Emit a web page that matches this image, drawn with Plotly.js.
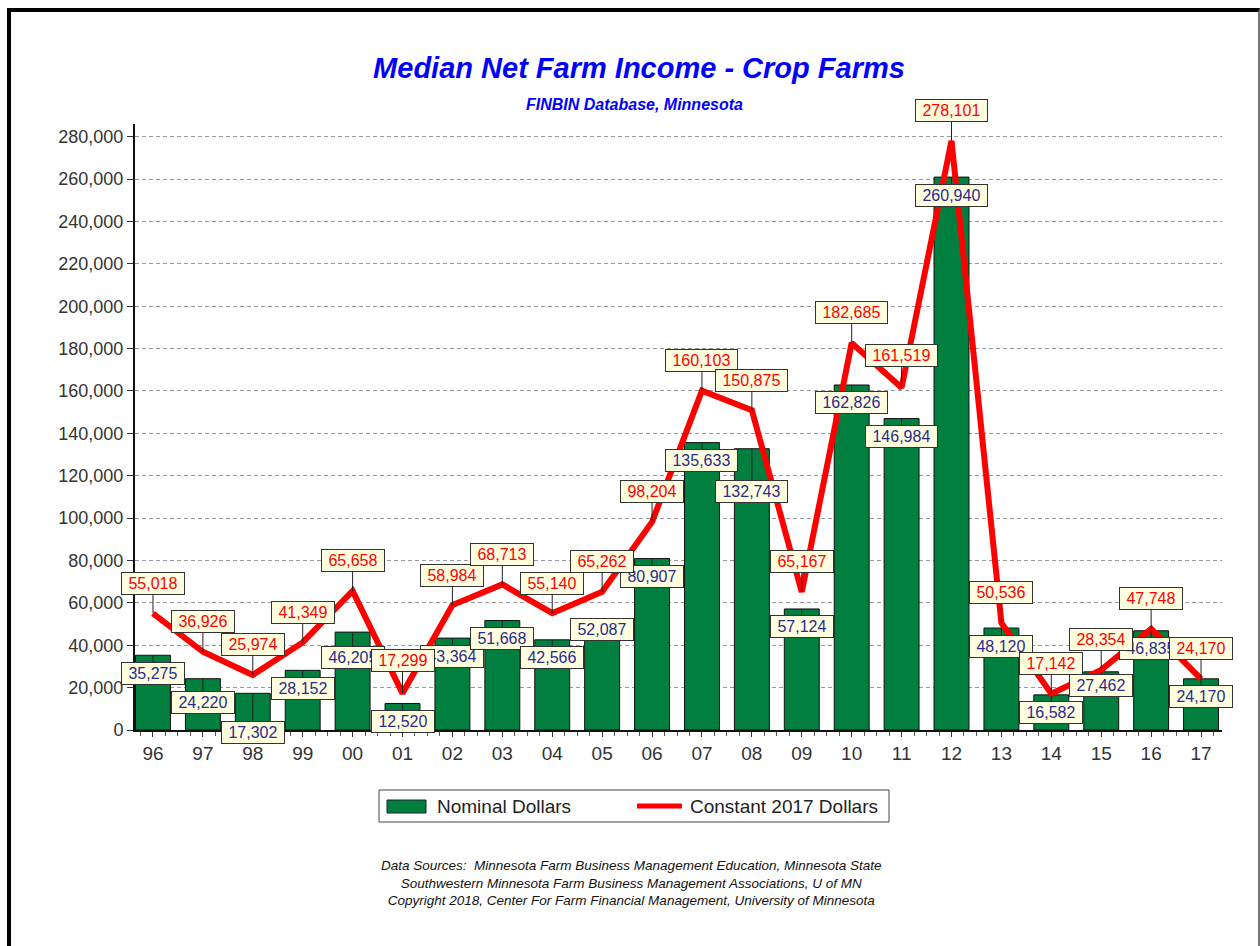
<!DOCTYPE html>
<html>
<head>
<meta charset="utf-8">
<script src="https://cdn.plot.ly/plotly-3.0.1.min.js"></script>
<style>
  html, body { margin: 0; padding: 0; background: #fff; }
  #wrap { position: relative; width: 1260px; height: 946px; overflow: hidden; }
  #chart { width: 1260px; height: 946px; }
  #frame { position: absolute; left: 7px; top: 8px; width: 1247px; height: 960px;
           border-left: 4px solid #000; border-top: 4px solid #000; border-right: 2px solid #777;
           pointer-events: none; }
</style>
</head>
<body>
<div id="wrap">
  <div id="chart"></div>
  <div id="frame"></div>
</div>
<script>
// ---- Data ----
const years = ['96','97','98','99','00','01','02','03','04','05','06','07','08','09','10','11','12','13','14','15','16','17'];
const nominalDollars = [35275, 24220, 17302, 28152, 46205, 12520, 43364, 51668, 42566, 52087, 80907,
                        135633, 132743, 57124, 162826, 146984, 260940, 48120, 16582, 27462, 46835, 24170];
const constant2017Dollars = [55018, 36926, 25974, 41349, 65658, 17299, 58984, 68713, 55140, 65262, 98204,
                             160103, 150875, 65167, 182685, 161519, 278101, 50536, 17142, 28354, 47748, 24170];
const seriesNames = ['Nominal Dollars', 'Constant 2017 Dollars'];
const chartTitle = 'Median Net Farm Income - Crop Farms';
const chartSubtitle = 'FINBIN Database, Minnesota';
const footerLines = [
  'Data Sources:  Minnesota Farm Business Management Education, Minnesota State',
  'Southwestern Minnesota Farm Business Management Associations, U of MN',
  'Copyright 2018, Center For Farm Financial Management, University of Minnesota'
];

// ---- Styling / layout ----
const GREEN = '#007F3F';
const RED = '#FF0000';
const NAVY = '#2A2A8E';
const FONT = 'Arial, "Liberation Sans", sans-serif';

const xs = years.map((_, i) => i);
const fmt = v => v.toLocaleString('en-US');

// label placement offsets (pixels), with a few nudges like the reference
const nominalNudge = {1: 24, 2: 39, 4: 25, 9: 10, 12: 43, 19: 14};
const constantNudge = {5: -33, 15: -32};

function labelBox(i, v, color, ay) {
  const txt = fmt(v);
  const w = txt.replace(',', '').length * 8.9 + 4.5 + 9;
  return {
    x: xs[i], y: v, xref: 'x', yref: 'y',
    text: txt, showarrow: true, arrowhead: 0, arrowwidth: 1, arrowcolor: '#222',
    standoff: 0, ax: 0, ay: ay,
    bgcolor: '#FFFFE0', bordercolor: '#333', borderwidth: 1, borderpad: 2,
    width: w, height: 17,
    font: {family: FONT, size: 16, color: color}
  };
}

const annotations = [];
nominalDollars.forEach((v, i) => {
  annotations.push(labelBox(i, v, NAVY, nominalNudge[i] !== undefined ? nominalNudge[i] : 18));
});
constant2017Dollars.forEach((v, i) => {
  annotations.push(labelBox(i, v, RED, constantNudge[i] !== undefined ? constantNudge[i] : -30));
});

// pixel -> paper helpers for the custom legend / texts (plot area: l=135, r=38, t=124, b=216)
const L = 135, T = 124, PW = 1087, PH = 606;
const px = p => (p - L) / PW;
const py = p => (T + PH - p) / PH;

annotations.push({
  xref: 'paper', yref: 'paper', x: px(634), y: py(105), xanchor: 'center', yanchor: 'middle',
  text: chartSubtitle, showarrow: false,
  font: {family: FONT, size: 16, color: '#0000FF', weight: 'bold', style: 'italic'}
});
annotations.push({
  xref: 'paper', yref: 'paper', x: px(435), y: py(806), xanchor: 'left', yanchor: 'middle',
  text: seriesNames[0], showarrow: false, font: {family: FONT, size: 19, color: '#222'}
});
annotations.push({
  xref: 'paper', yref: 'paper', x: px(688), y: py(806), xanchor: 'left', yanchor: 'middle',
  text: seriesNames[1], showarrow: false, font: {family: FONT, size: 19, color: '#222'}
});
annotations.push({
  xref: 'paper', yref: 'paper', x: px(631), y: py(883), xanchor: 'center', yanchor: 'middle',
  text: footerLines.join('<br>'), showarrow: false, align: 'center',
  font: {family: FONT, size: 13.5, color: '#111', style: 'italic'}
});

const shapes = [
  {type: 'rect', xref: 'paper', yref: 'paper', x0: px(379), x1: px(889), y0: py(822), y1: py(790),
   line: {color: '#444', width: 1}, fillcolor: 'rgba(0,0,0,0)'},
  {type: 'rect', xref: 'paper', yref: 'paper', x0: px(387), x1: px(426), y0: py(813), y1: py(800),
   line: {color: '#222', width: 1}, fillcolor: GREEN},
  {type: 'line', xref: 'paper', yref: 'paper', x0: px(637), x1: px(682), y0: py(806), y1: py(806),
   line: {color: RED, width: 5}}
];

const traces = [
  {
    type: 'bar', name: seriesNames[0], x: xs, y: nominalDollars, width: 0.7,
    marker: {color: GREEN, line: {color: '#111', width: 1}},
    hoverinfo: 'skip'
  },
  {
    type: 'scatter', mode: 'lines', name: seriesNames[1], x: xs, y: constant2017Dollars,
    line: {color: RED, width: 6, shape: 'linear'},
    hoverinfo: 'skip'
  }
];

const layout = {
  width: 1260, height: 946,
  margin: {l: L, r: 1260 - L - PW, t: T, b: 946 - T - PH, pad: 0},
  paper_bgcolor: '#fff', plot_bgcolor: '#fff',
  showlegend: false,
  title: {
    text: chartTitle, x: 639 / 1260, xref: 'container', xanchor: 'center',
    y: 1 - 68 / 946, yref: 'container', yanchor: 'middle',
    font: {family: FONT, size: 29, color: '#0000FF', weight: 'bold', style: 'italic'}
  },
  xaxis: {
    range: [-0.36, 21.42], tickmode: 'array', tickvals: xs, ticktext: years,
    showline: true, linecolor: '#111', linewidth: 2, mirror: false,
    ticks: 'outside', ticklen: 5, tickcolor: '#333', tickwidth: 1,
    minor: {tickmode: 'linear', tick0: 0, dtick: 0.25, ticks: 'outside', ticklen: 4, tickcolor: '#555', showgrid: false},
    showgrid: false, zeroline: false,
    tickfont: {family: FONT, size: 19, color: '#333'}
  },
  yaxis: {
    range: [0, 286000], tickmode: 'linear', tick0: 0, dtick: 20000, tickformat: ',d',
    showline: true, linecolor: '#111', linewidth: 2,
    ticks: 'outside', ticklen: 6, tickcolor: '#333',
    showgrid: true, gridcolor: '#999', gridwidth: 1, griddash: '4px,3px',
    zeroline: false,
    tickfont: {family: FONT, size: 18, color: '#333'}
  },
  annotations: annotations,
  shapes: shapes
};

Plotly.newPlot('chart', traces, layout, {displayModeBar: false, staticPlot: true});
</script>
</body>
</html>
